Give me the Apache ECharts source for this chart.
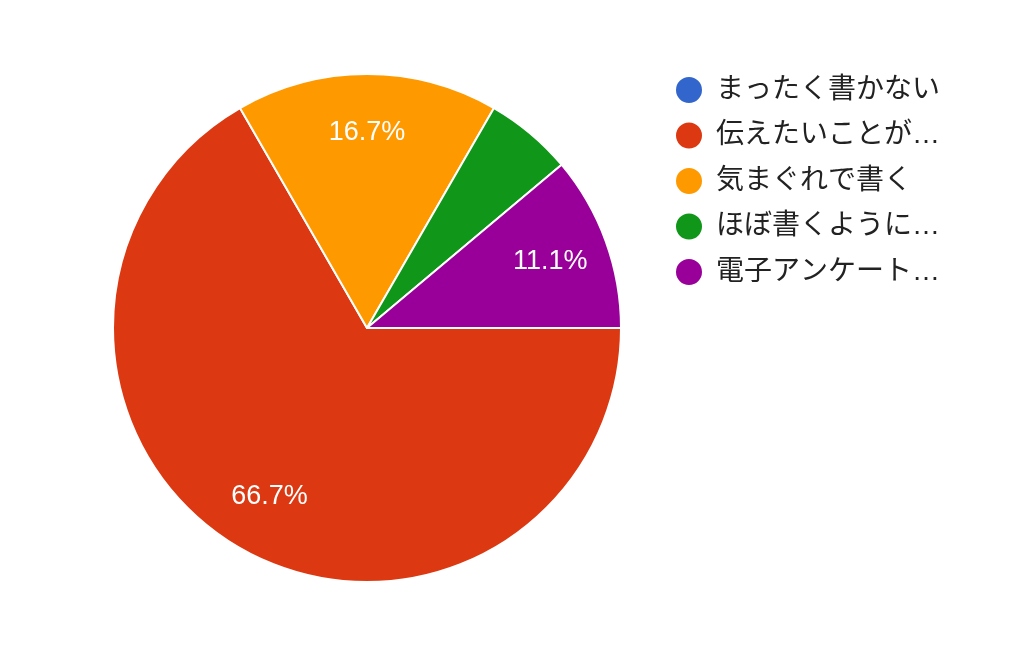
<!DOCTYPE html>
<html>
<head>
<meta charset="utf-8">
<script src="https://cdn.jsdelivr.net/npm/echarts@6/dist/echarts.min.js"></script>
<style>
html,body{margin:0;padding:0;background:#fff;}
#chart{width:1024px;height:663px;}
</style>
</head>
<body>
<div id="chart"></div>
<script>
const categories = ['まったく書かない', '伝えたいことが…', '気まぐれで書く', 'ほぼ書くように…', '電子アンケート…'];
const counts = [0, 12, 3, 1, 2];
const colors = ['#3366cc', '#dc3912', '#ff9900', '#109618', '#990099'];

const chart = echarts.init(document.getElementById('chart'), null, {renderer: 'canvas'});

const mainData = categories.map((name, i) => ({
  name: name,
  value: counts[i],
  itemStyle: {color: colors[i]}
}));
const labelData = categories.map((name, i) => ({
  name: name,
  value: counts[i]
}));

chart.setOption({
  animation: false,
  backgroundColor: '#ffffff',
  legend: {
    orient: 'vertical',
    left: 674,
    top: 75,
    padding: 0,
    icon: 'circle',
    itemWidth: 28,
    itemHeight: 28,
    itemGap: 15.5,
    selectedMode: false,
    data: categories.map((name, i) => ({name: name, itemStyle: {color: colors[i]}})),
    textStyle: {
      fontFamily: '"Liberation Sans", "Noto Sans CJK JP", sans-serif',
      fontSize: 28,
      lineHeight: 28,
      color: '#222222',
      padding: [0, 0, 0, 8]
    }
  },
  series: [
    {
      type: 'pie',
      center: [367, 328],
      radius: 254,
      startAngle: 0,
      clockwise: true,
      silent: true,
      avoidLabelOverlap: false,
      label: {show: false},
      labelLine: {show: false},
      emphasis: {disabled: true},
      itemStyle: {borderColor: '#ffffff', borderWidth: 2},
      data: mainData
    },
    {
      type: 'pie',
      center: [367, 328],
      radius: [130, 254],
      startAngle: 0,
      clockwise: true,
      silent: true,
      avoidLabelOverlap: false,
      percentPrecision: 1,
      emphasis: {disabled: true},
      itemStyle: {color: 'rgba(0,0,0,0)', borderWidth: 0},
      labelLine: {show: false},
      label: {
        show: true,
        position: 'inside',
        color: '#ffffff',
        fontFamily: '"Liberation Sans", Arial, sans-serif',
        fontSize: 27,
        formatter: p => (p.percent >= 10 ? p.percent.toFixed(1) + '%' : '')
      },
      data: labelData
    }
  ]
});
</script>
</body>
</html>
